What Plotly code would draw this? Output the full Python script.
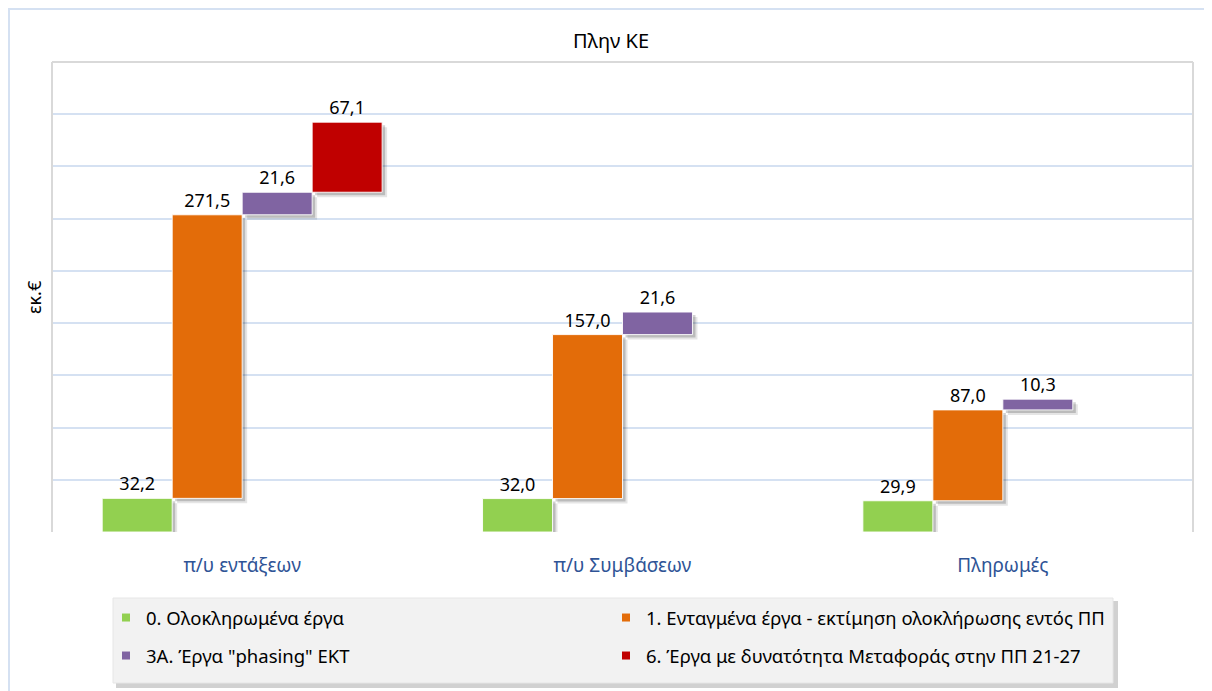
import plotly.graph_objects as go

categories = ["π/υ εντάξεων", "π/υ Συμβάσεων", "Πληρωμές"]
series_names = [
    "0. Ολοκληρωμένα έργα",
    "1. Ενταγμένα έργα - εκτίμηση ολοκλήρωσης εντός ΠΠ",
    "3Α. Έργα \"phasing\" ΕΚΤ",
    "6. Έργα με δυνατότητα Μεταφοράς στην ΠΠ 21-27",
]
completed = [32.2, 32.0, 29.9]
integrated = [271.5, 157.0, 87.0]
phasing = [21.6, 21.6, 10.3]
transfer = [67.1, None, None]

colors = ["#92D050", "#E36C09", "#8064A2", "#C00000"]
series = [completed, integrated, phasing, transfer]

FONT = "Noto Sans"
W = 0.184                     # bar width in category units
offsets = [-2 * W, -W, 0, W]  # left edges relative to category centre
PX_X = 1 / 380.0              # one pixel in category units
PX_Y = 450 / 470.0            # one pixel in value units

# page body has an 8px margin: figure is placed at (8, 8)
OX, OY = 8, 8
FW, FH = 1204, 683

fig = go.Figure()

bases = []
running = [0.0] * len(categories)
for s in series:
    bases.append(list(running))
    running = [r + (v or 0) for r, v in zip(running, s)]

# soft shadows
for dpx, alpha in [(5, 0.10), (3, 0.18)]:
    for s, b, off in zip(series, bases, offsets):
        fig.add_trace(go.Bar(
            x=categories, y=s, base=[bb - dpx * PX_Y for bb in b],
            width=W, offset=off + dpx * PX_X,
            marker=dict(color=f"rgba(0,0,0,{alpha})", line=dict(width=0)),
            showlegend=False, hoverinfo="skip",
        ))

# main bars
for name, s, b, off, c in zip(series_names, series, bases, offsets, colors):
    fig.add_trace(go.Bar(
        x=categories, y=s, base=b, width=W, offset=off,
        marker=dict(color=c, line=dict(color="rgba(255,255,255,0.9)", width=1)),
        text=[None if v is None else f"{v:.1f}".replace(".", ",") for v in s],
        textposition="outside", cliponaxis=False,
        textfont=dict(family=FONT, size=18, color="#000000"),
        showlegend=False, name=name,
    ))

# legend entries (small square markers)
for i, (name, c) in enumerate(zip(series_names, colors)):
    fig.add_trace(go.Scatter(
        x=[None], y=[None], mode="markers", name=name,
        marker=dict(symbol="square", size=8, color=c),
        legend="legend" if i < 2 else "legend2",
    ))


def px_x(p):  # page x -> paper
    return (p - 52) / 1141.0


def px_y(p):  # page y -> paper
    return (532 - p) / 470.0


shapes = [
    # outer frame
    dict(type="rect", xref="paper", yref="paper", x0=px_x(9), x1=px_x(1220),
         y0=px_y(700), y1=px_y(9), line=dict(color="#D5E1F2", width=2), layer="below"),
    # plot-area frame (left, top, right)
    dict(type="line", xref="paper", yref="paper", x0=0, x1=0, y0=0, y1=1,
         line=dict(color="#D9D9D9", width=2)),
    dict(type="line", xref="paper", yref="paper", x0=0, x1=1, y0=1, y1=1,
         line=dict(color="#D9D9D9", width=2)),
    dict(type="line", xref="paper", yref="paper", x0=1, x1=1, y0=0, y1=1,
         line=dict(color="#D9D9D9", width=2)),
    # legend box shadow + box
    dict(type="rect", xref="paper", yref="paper", x0=px_x(116), x1=px_x(1118),
         y0=px_y(688), y1=px_y(601), fillcolor="rgba(0,0,0,0.18)",
         line=dict(width=0), layer="below"),
    dict(type="rect", xref="paper", yref="paper", x0=px_x(113), x1=px_x(1113),
         y0=px_y(683), y1=px_y(598), fillcolor="#F2F2F2",
         line=dict(color="#E6E6E6", width=1), layer="below"),
]

legend_common = dict(
    orientation="h", xanchor="left", yanchor="middle",
    bgcolor="rgba(0,0,0,0)", borderwidth=0,
    entrywidth=455, entrywidthmode="pixels",
    font=dict(family=FONT, size=18.5, color="#000000"),
)

fig.update_layout(
    width=FW, height=FH,
    margin=dict(l=52 - OX, r=FW - (1193 - OX), t=62 - OY, b=FH - (532 - OY)),
    paper_bgcolor="#FFFFFF", plot_bgcolor="#FFFFFF",
    barmode="overlay",
    font=dict(family=FONT, color="#000000"),
    title=dict(text="Πλην ΚΕ", x=(611 - OX) / FW, xanchor="center",
               y=1 - (41 - OY) / FH, yanchor="middle", yref="container", xref="container",
               font=dict(family=FONT, size=20, color="#000000")),
    xaxis=dict(type="category", range=[-0.5, 2.5], showgrid=False, zeroline=False,
               showline=False, ticks="", ticklabelstandoff=20,
               tickfont=dict(family=FONT, size=19, color="#2F5496")),
    yaxis=dict(range=[0, 450], dtick=50, showgrid=True, gridcolor="#D5E1F2",
               gridwidth=1.5, zeroline=False, showticklabels=False, showline=False),
    legend=dict(x=px_x(106), y=px_y(618), **legend_common),
    legend2=dict(x=px_x(106), y=px_y(656), **legend_common),
    shapes=shapes,
    annotations=[dict(text="εκ.€", xref="paper", yref="paper", x=px_x(34), y=px_y(297),
                      textangle=-90, showarrow=False, xanchor="center", yanchor="middle",
                      font=dict(family=FONT, size=18, color="#000000"))],
    showlegend=True,
)

fig.write_html("out.html")
